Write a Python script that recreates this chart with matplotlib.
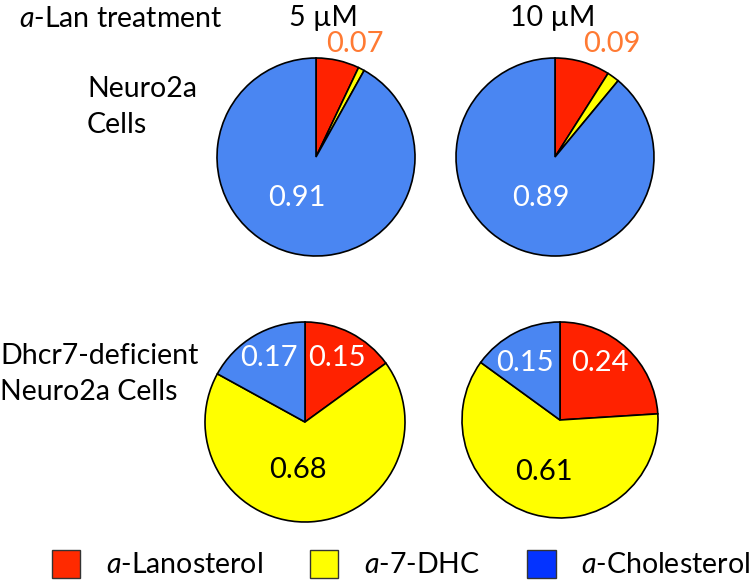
import matplotlib
matplotlib.use("Agg")
import matplotlib.pyplot as plt
from matplotlib.patches import Patch

plt.rcParams['font.family'] = ['Lato', 'DejaVu Sans']
plt.rcParams['mathtext.fontset'] = 'custom'
plt.rcParams['mathtext.rm'] = 'Lato'
plt.rcParams['mathtext.it'] = 'Lato:italic'

# ---- data ----
components = ["Lanosterol", "7-DHC", "Cholesterol"]
neuro2a_5uM = [0.07, 0.01, 0.91]
neuro2a_10uM = [0.09, 0.02, 0.89]
dhcr7_5uM = [0.15, 0.68, 0.17]
dhcr7_10uM = [0.24, 0.61, 0.15]
doses = ["5 µM", "10 µM"]
row_labels = ["Neuro2a\nCells", "Dhcr7-deficient\nNeuro2a Cells"]

pie_colors = ["#FF2200", "#FFFF00", "#4A86F2"]
legend_colors = ["#FF2A00", "#FFFF00", "#0433FF"]
orange = "#FF7A33"

W, H = 750, 587
fig = plt.figure(figsize=(W / 100, H / 100), dpi=100)

def px(x, y):
    return x / W, 1 - y / H

def pie_axes(cx, cy, r):
    ax = fig.add_axes([(cx - r) / W, 1 - (cy + r) / H, 2 * r / W, 2 * r / H])
    ax.axis('off')
    return ax

# (center x, center y, radius) in pixels, values, label specs
pies = [
    (316, 157, 99, neuro2a_5uM,
     [(0, 0.39, 1.14, orange), (2, -0.19, -0.41, "white")]),
    (555, 157, 99, neuro2a_10uM,
     [(0, 0.57, 1.14, orange), (2, -0.14, -0.41, "white")]),
    (305, 422, 100, dhcr7_5uM,
     [(2, -0.36, 0.64, "white"), (0, 0.32, 0.64, "white"), (1, -0.07, -0.48, "black")]),
    (560, 420, 98, dhcr7_10uM,
     [(2, -0.36, 0.58, "white"), (0, 0.41, 0.58, "white"), (1, -0.16, -0.53, "black")]),
]

num_fs = 21
for cx, cy, r, vals, labs in pies:
    ax = pie_axes(cx, cy, r)
    ax.pie(vals, colors=pie_colors, startangle=90, counterclock=False,
           radius=1, wedgeprops=dict(edgecolor="black", linewidth=1.2))
    ax.set_xlim(-1.0, 1.0)
    ax.set_ylim(-1.0, 1.0)
    for idx, lx, ly, col in labs:
        ax.text(lx, ly, f"{vals[idx]:.2f}", color=col, fontsize=num_fs,
                ha="center", va="center", clip_on=False)

# header
fs = 20.5
fig.text(*px(19, 19), r"$\mathit{a}$-Lan treatment", fontsize=fs, ha="left", va="center")
fig.text(*px(323, 18), doses[0], fontsize=fs, ha="center", va="center")
fig.text(*px(553, 18), doses[1], fontsize=fs, ha="center", va="center")

# row labels
fig.text(*px(87, 107), row_labels[0], fontsize=fs, ha="left", va="center", linespacing=1.5)
fig.text(*px(0, 374), row_labels[1], fontsize=fs, ha="left", va="center", linespacing=1.5)

# legend
handles = [Patch(facecolor=c, edgecolor="#333333", linewidth=1.0) for c in legend_colors]
labels = [r"$\mathit{a}$-" + c for c in components]
fig.legend(handles, labels, loc="center", bbox_to_anchor=(*px(401, 564),),
           ncol=3, frameon=False, fontsize=fs, handlelength=1.0, handleheight=1.15,
           handletextpad=0.9, columnspacing=1.65, borderaxespad=0)

fig.savefig("out.png", dpi=100)
